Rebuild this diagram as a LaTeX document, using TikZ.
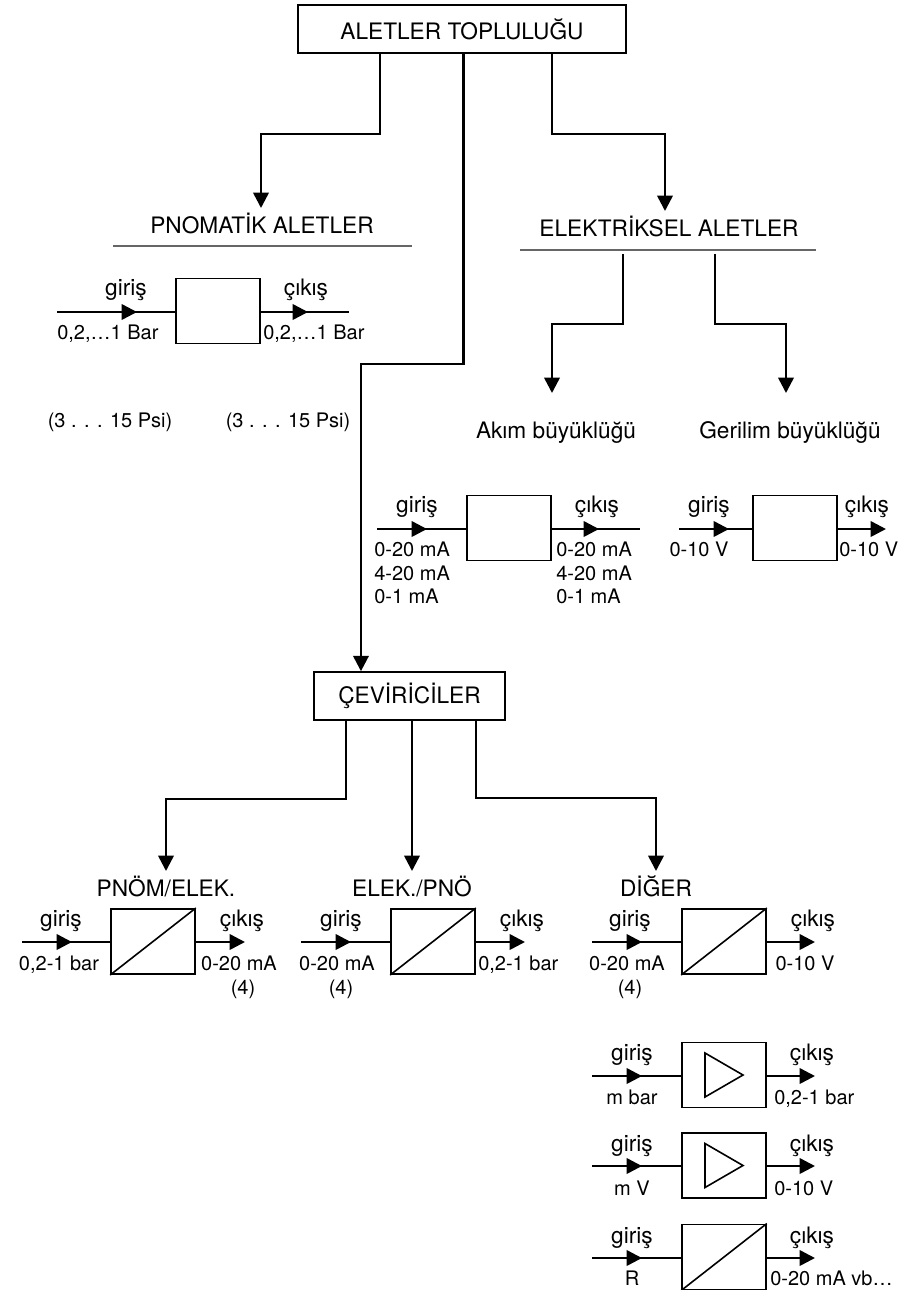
\documentclass[tikz,border=0pt]{standalone}
\usepackage{fontspec}
\setmainfont{TeX Gyre Heros}
\usetikzlibrary{arrows.meta,positioning}

\begin{document}
\begin{tikzpicture}[
  x=0.75pt, y=-0.75pt,
  font=\fontsize{15}{17.5}\selectfont,
  hbox/.style={draw, line width=1.2pt, minimum height=36pt, inner sep=0pt, font=\fontsize{17}{20}\selectfont},
  dev/.style={draw, line width=1.2pt, minimum width=63pt, minimum height=49pt, inner sep=0pt},
  lab/.style={inner sep=0pt, text height=11pt, text depth=0pt},
  sig/.style={lab, font=\fontsize{17}{20}\selectfont},
  ttl/.style={sig, outer ysep=8pt},
  multi/.style={inner sep=0pt, align=left, anchor=north west},
  rule/.style={line width=1.2pt, black!60},
  wire/.style={line width=1.2pt},
  arr/.style={-{Triangle[length=11.5pt,width=11.5pt]}, line width=1.9pt}]

\useasboundingbox (0,0) rectangle (916,1290);

% Top box
\node[hbox, minimum width=246pt] (top) at (462,29) {ALETLER TOPLULUĞU};
\node[ttl] (pnom) at (262,226) {PNOMATİK ALETLER};
\node[ttl] (elek) at (669,229) {ELEKTRİKSEL ALETLER};
\node[hbox, minimum width=143pt] (cev) at (409.5,696) {ÇEVİRİCİLER};
\draw[arr] (top.south) ++(-82,0) -- ++(0,80) -| ([xshift=-0.75pt]pnom.north);
\draw[arr] (top.south) ++(90,0) -- ++(0,80) -| ([xshift=-3pt]elek.north);
\draw[arr] (top.south) ++(1.5,0) -- ++(0,310) -| ([xshift=-36.4pt]cev.north);

% Pneumatic block
\coordinate (ru1) at (113,246);
\coordinate (ru2) at (412,246);
\draw[rule] (ru1) -- (ru2);
\node[dev] (p1) at (218,311) {};
\coordinate (p1i) at (57,312);
\coordinate (p1a) at (137,312);
\coordinate (p1b) at (308,312);
\coordinate (p1e) at (349,312);
\draw[wire] (p1i) -- (p1.west |- p1i);
\draw[wire] (p1.east |- p1e) -- (p1e);
\draw[arr] (p1i) -- (p1a);
\draw[arr] (p1.east |- p1b) -- (p1b);
\node[sig] (p1g) at (126,288.5) {giriş};
\node[sig] (p1c) at (306,288.5) {çıkış};
\node[lab, anchor=west] (p1l) at (57,332) {0,2,…1 Bar};
\node[lab, anchor=west] (p1r) at (263,332) {0,2,…1 Bar};
\node[lab] (p1s) at (110,420) {(3 . . . 15 Psi)};
\node[lab] (p2s) at (288,420) {(3 . . . 15 Psi)};

% Electrical branch
\coordinate (ru3) at (520,250);
\coordinate (ru4) at (816,250);
\draw[rule] (ru3) -- (ru4);
\coordinate (el1) at (623,254);
\coordinate (el2) at (715,254);
\node[sig, outer ysep=23pt] (akim) at (556,431) {Akım büyüklüğü};
\node[sig, outer ysep=23pt] (ger) at (790,431) {Gerilim büyüklüğü};
\draw[arr] (el1) -- ++(0,70) -| ([xshift=-3pt]akim.north);
\draw[arr] (el2) -- ++(0,70) -| ([xshift=-3pt]ger.north);

% Current block
\node[dev] (m1) at (509,528) {};
\coordinate (m1i) at (377,529);
\coordinate (m1a) at (427,529);
\coordinate (m1b) at (599,529);
\coordinate (m1e) at (640,529);
\draw[wire] (m1i) -- (m1.west |- m1i);
\draw[wire] (m1.east |- m1e) -- (m1e);
\draw[arr] (m1i) -- (m1a);
\draw[arr] (m1.east |- m1b) -- (m1b);
\node[sig] (m1g) at (417,505.5) {giriş};
\node[sig] (m1c) at (597,505.5) {çıkış};
\node[multi] (m1l) at (374,542) {0-20 mA\\4-20 mA\\0-1 mA};
\node[multi] (m1r) at (556,542) {0-20 mA\\4-20 mA\\0-1 mA};

% Voltage block
\node[dev] (v1) at (795,528) {};
\coordinate (v1i) at (679,529);
\coordinate (v1a) at (729,529);
\coordinate (v1b) at (886,529);
\draw[wire] (v1i) -- (v1.west |- v1i);
\draw[arr] (v1i) -- (v1a);
\draw[arr] (v1.east |- v1b) -- (v1b);
\node[sig] (v1g) at (709,505.5) {giriş};
\node[sig] (v1c) at (867,505.5) {çıkış};
\node[lab] (v1l) at (699,549) {0-10 V};
\node[lab, anchor=west] (v1r) at (839,549) {0-10 V};

% Converter titles
\node[ttl] (pe) at (166,889) {PNÖM/ELEK.};
\node[ttl] (ep) at (412,889) {ELEK./PNÖ};
\node[ttl] (dg) at (656,889) {DİĞER};
\draw[arr] (cev.south) ++(-63.5,0) -- ++(0,78) -| (pe.north);
\draw[arr] (cev.south) ++(2.5,0) -- (ep.north);
\draw[arr] (cev.south) ++(66.5,0) -- ++(0,77) -| (dg.north);

% Row 1, pneumatic to electric
\node[dev] (c1) at (153,941.5) {};
\coordinate (c1i) at (22,942);
\coordinate (c1a) at (72,942);
\coordinate (c1b) at (245,942);
\draw[wire] (c1i) -- (c1.west |- c1i);
\draw[wire] (c1.south west) -- (c1.north east);
\draw[arr] (c1i) -- (c1a);
\draw[arr] (c1.east |- c1b) -- (c1b);
\node[sig] (c1g) at (61,919.5) {giriş};
\node[sig] (c1c) at (242,919.5) {çıkış};
\node[lab] (c1l) at (59,963) {0,2-1 bar};
\node[lab] (c1r) at (239,963) {0-20 mA};
\node[lab] (c1n) at (243,987) {(4)};

% Row 1, electric to pneumatic
\node[dev] (c2) at (433,941.5) {};
\coordinate (c2i) at (301,942);
\coordinate (c2a) at (351,942);
\coordinate (c2b) at (525,942);
\draw[wire] (c2i) -- (c2.west |- c2i);
\draw[wire] (c2.south west) -- (c2.north east);
\draw[arr] (c2i) -- (c2a);
\draw[arr] (c2.east |- c2b) -- (c2b);
\node[sig] (c2g) at (341,919.5) {giriş};
\node[sig] (c2c) at (522,919.5) {çıkış};
\node[lab] (c2l) at (337,963) {0-20 mA};
\node[lab] (c2n) at (341,987) {(4)};
\node[lab, anchor=west] (c2r) at (478,963) {0,2-1 bar};

% Row 1, other
\node[dev] (c3) at (724,941.5) {};
\coordinate (c3i) at (592,942);
\coordinate (c3a) at (642,942);
\coordinate (c3b) at (815,942);
\draw[wire] (c3i) -- (c3.west |- c3i);
\draw[wire] (c3.south west) -- (c3.north east);
\draw[arr] (c3i) -- (c3a);
\draw[arr] (c3.east |- c3b) -- (c3b);
\node[sig] (c3g) at (630,919.5) {giriş};
\node[sig] (c3c) at (813,919.5) {çıkış};
\node[lab] (c3l) at (627,963) {0-20 mA};
\node[lab] (c3n) at (630,987) {(4)};
\node[lab] (c3r) at (805,963) {0-10 V};

% Amplifier, m bar
\node[dev] (d1) at (724,1075) {};
\coordinate (d1i) at (592,1076);
\coordinate (d1a) at (642,1076);
\coordinate (d1b) at (815,1076);
\draw[wire] (d1i) -- (d1.west |- d1i);
\draw[wire] (d1.center) ++(-19,-22) -- ++(38,22) -- ++(-38,22) -- cycle;
\draw[arr] (d1i) -- (d1a);
\draw[arr] (d1.east |- d1b) -- (d1b);
\node[sig] (d1g) at (632,1053.5) {giriş};
\node[sig] (d1c) at (812,1053.5) {çıkış};
\node[lab] (d1l) at (632,1097) {m bar};
\node[lab, anchor=west] (d1r) at (774,1097) {0,2-1 bar};

% Amplifier, m V
\node[dev] (d2) at (724,1165.5) {};
\coordinate (d2i) at (592,1166);
\coordinate (d2a) at (642,1166);
\coordinate (d2b) at (815,1166);
\draw[wire] (d2i) -- (d2.west |- d2i);
\draw[wire] (d2.center) ++(-19,-22) -- ++(38,22) -- ++(-38,22) -- cycle;
\draw[arr] (d2i) -- (d2a);
\draw[arr] (d2.east |- d2b) -- (d2b);
\node[sig] (d2g) at (632,1144.5) {giriş};
\node[sig] (d2c) at (812,1144.5) {çıkış};
\node[lab] (d2l) at (632,1188) {m V};
\node[lab, anchor=west] (d2r) at (774,1188) {0-10 V};

% Transducer, R
\node[dev] (d3) at (724,1257) {};
\coordinate (d3i) at (592,1258);
\coordinate (d3a) at (642,1258);
\coordinate (d3b) at (815,1258);
\draw[wire] (d3i) -- (d3.west |- d3i);
\draw[wire] (d3.south west) -- (d3.north east);
\draw[arr] (d3i) -- (d3a);
\draw[arr] (d3.east |- d3b) -- (d3b);
\node[sig] (d3g) at (632,1236.5) {giriş};
\node[sig] (d3c) at (812,1236.5) {çıkış};
\node[lab] (d3l) at (632,1278) {R};
\node[lab, anchor=west] (d3r) at (770,1278) {0-20 mA vb…};
\end{tikzpicture}
\end{document}
